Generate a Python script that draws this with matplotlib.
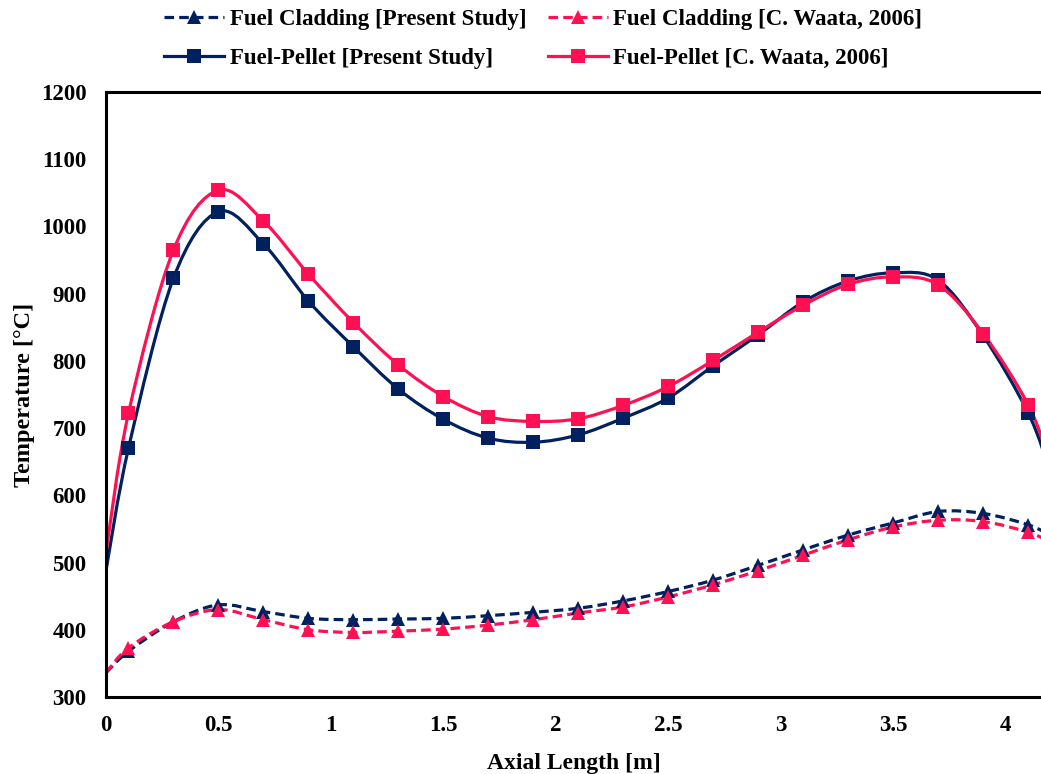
import matplotlib.pyplot as plt
from matplotlib.path import Path
from matplotlib.patches import PathPatch
from matplotlib.lines import Line2D
import numpy as np

plt.rcParams['font.family'] = ['Liberation Serif', 'DejaVu Serif']
plt.rcParams['font.weight'] = 'bold'

# axial positions; first and last points are line ends without markers
axial = [0, 0.1, 0.3, 0.5, 0.7, 0.9, 1.1, 1.3, 1.5, 1.7, 1.9, 2.1,
         2.3, 2.5, 2.7, 2.9, 3.1, 3.3, 3.5, 3.7, 3.9, 4.1, 4.2]

clad_present = [336, 368, 412, 437, 427, 417, 415, 416, 417, 421, 426, 432,
                443, 457, 474, 496, 519, 541, 559, 576, 573, 556, 540]
clad_waata = [336, 373, 412, 430, 415, 400, 396, 398, 401, 407, 415, 425,
              434, 449, 467, 488, 511, 534, 553, 563, 561, 545, 530]
pellet_present = [488, 670, 923, 1022, 974, 889, 821, 758, 713, 685, 679, 690,
                  715, 745, 793, 839, 888, 919, 931, 920, 837, 722, 632]
pellet_waata = [515, 722, 965, 1054, 1008, 929, 857, 794, 747, 717, 710, 714,
                734, 762, 801, 843, 883, 914, 925, 913, 840, 734, 645]

labels = ['Fuel Cladding [Present Study]', 'Fuel Cladding [C. Waata, 2006]',
          'Fuel-Pellet [Present Study]', 'Fuel-Pellet [C. Waata, 2006]']

NAVY = '#002060'
PINK = '#FF1053'


def smooth_path(xs, ys):
    # Excel-like smoothed line: cubic Bezier through the points
    pts = np.column_stack([xs, ys]).astype(float)
    n = len(pts)
    verts = [pts[0]]
    codes = [Path.MOVETO]
    for i in range(n - 1):
        p0 = pts[max(i - 1, 0)]
        p1 = pts[i]
        p2 = pts[i + 1]
        p3 = pts[min(i + 2, n - 1)]
        verts += [p1 + (p2 - p0) / 6, p2 - (p3 - p1) / 6, p2]
        codes += [Path.CURVE4] * 3
    return Path(verts, codes)


fig = plt.figure(figsize=(10.41, 7.74), dpi=100)
ax = fig.add_axes([0.1018, 0.0995, 0.8982, 0.7816])

series = [
    (clad_present, NAVY, (0, (3, 1.6)), '^'),
    (clad_waata, PINK, (0, (3, 1.6)), '^'),
    (pellet_present, NAVY, '-', 's'),
    (pellet_waata, PINK, '-', 's'),
]

handles = []
for (vals, col, ls, mk), lab in zip(series, labels):
    ax.add_patch(PathPatch(smooth_path(axial, vals), fill=False,
                           edgecolor=col, lw=2.3, linestyle=ls,
                           capstyle='butt'))
    ax.plot(axial, vals, ls='none', marker=mk, color=col, markersize=10.5,
            markeredgewidth=0, markevery=list(range(1, len(axial) - 1)))
    handles.append(Line2D([], [], color=col, lw=2.3, linestyle=ls,
                          marker=mk, markersize=10.5, markeredgewidth=0,
                          label=lab))

ax.set_xlim(0, 4.156)
ax.set_ylim(300, 1200)
ax.set_xticks([0, 0.5, 1, 1.5, 2, 2.5, 3, 3.5, 4])
ax.set_xticklabels(['0', '0.5', '1', '1.5', '2', '2.5', '3', '3.5', '4'])
ax.set_yticks(range(300, 1201, 100))
ax.tick_params(length=0, labelsize=16.5)
ax.tick_params(axis='x', pad=13)
ax.tick_params(axis='y', pad=14)
for lab in ax.get_xticklabels() + ax.get_yticklabels():
    lab.set_fontweight('bold')

for side in ['left', 'bottom', 'top']:
    ax.spines[side].set_linewidth(2.2)
    ax.spines[side].set_color('black')
ax.spines['right'].set_visible(False)

ax.set_xlabel('Axial Length [m]', fontsize=17, fontweight='bold', labelpad=12)
ax.set_ylabel('Temperature [°C]', fontsize=17.5, fontweight='bold', labelpad=4)

order = [handles[0], handles[2], handles[1], handles[3]]
fig.legend(handles=order, loc='center', bbox_to_anchor=(0.522, 0.9495),
           ncol=2, frameon=False, handlelength=2.6,
           columnspacing=0.95, labelspacing=0.8, handletextpad=0.25,
           prop={'weight': 'bold', 'size': 16.5})

fig.savefig('out.png', dpi=100)
